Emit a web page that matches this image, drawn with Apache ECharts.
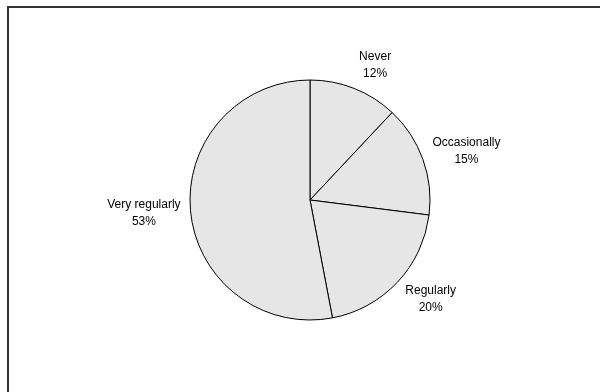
<!DOCTYPE html>
<html>
<head>
<meta charset="utf-8">
<script src="https://cdn.jsdelivr.net/npm/echarts@6/dist/echarts.min.js"></script>
<style>
  html, body { margin: 0; padding: 0; background: #fff; }
  #chart { width: 600px; height: 392px; }
</style>
</head>
<body>
<div id="chart"></div>
<script>
const categories = ['Never', 'Occasionally', 'Regularly', 'Very regularly']
const shares = [12, 15, 20, 53]

const center = [310, 200]
const radius = 120
const labelGap = 8

const total = shares.reduce((a, b) => a + b, 0)

// mid angle of each slice, clockwise from 12 o'clock
const midAngle = idx => {
  let before = 0
  for (let i = 0; i < idx; i++) before += shares[i]
  return (before + shares[idx] / 2) / total * Math.PI * 2
}

const chart = echarts.init(document.getElementById('chart'))

const option = {
  animation: false,
  graphic: [
    {
      type: 'polyline',
      shape: { points: [[8, 392], [8, 7], [600, 7]] },
      style: { stroke: '#333', lineWidth: 2, fill: null }
    }
  ],
  series: [
    {
      type: 'pie',
      center: center,
      radius: radius,
      startAngle: 90,
      clockwise: true,
      data: categories.map((name, i) => ({ name: name, value: shares[i] })),
      itemStyle: {
        color: '#e6e6e6',
        borderColor: '#000',
        borderWidth: 1
      },
      label: {
        show: true,
        position: 'outside',
        formatter: '{b}\n{c}%',
        fontFamily: 'Liberation Sans, Arial, sans-serif',
        fontSize: 12,
        lineHeight: 17,
        color: '#000',
        align: 'center'
      },
      labelLine: { show: false },
      // excel-like placement: inner edge of the label just past the rim
      labelLayout: params => {
        const a = midAngle(params.dataIndex)
        const ux = Math.sin(a)
        const uy = -Math.cos(a)
        const w = params.labelRect.width
        const h = params.labelRect.height
        const px = center[0] + ux * (radius + labelGap)
        const py = center[1] + uy * (radius + labelGap)
        return {
          x: px + Math.sign(ux) * (w / 2 + 2),
          y: py + uy * h / 2,
          align: 'center',
          verticalAlign: 'middle'
        }
      },
      emphasis: { disabled: true }
    }
  ]
}

chart.setOption(option)
</script>
</body>
</html>
